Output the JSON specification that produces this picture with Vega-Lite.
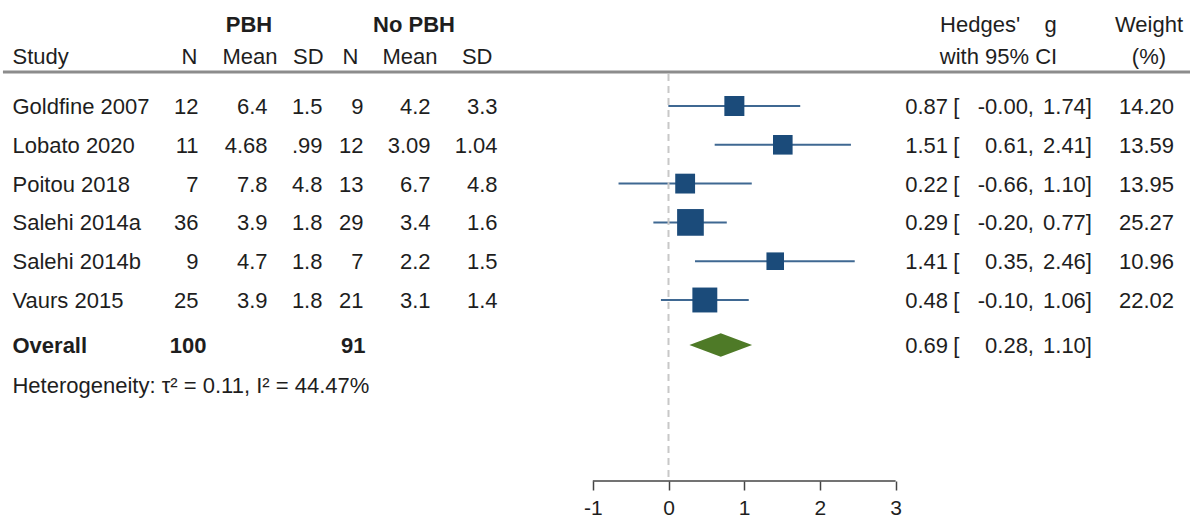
{
  "$schema": "https://vega.github.io/schema/vega-lite/v6.json",
  "width": 1190,
  "height": 481,
  "autosize": {"type": "none"},
  "padding": {"left": 0, "top": 0, "right": 0, "bottom": 36},
  "background": "white",
  "config": {
    "view": {"stroke": null},
    "text": {"font": "Liberation Sans", "fontSize": 22, "color": "#1e1e1e", "baseline": "middle", "dy": 1},
    "axisX": {"domain": false, "grid": false, "ticks": true, "tickSize": 9, "tickColor": "#444", "tickWidth": 1.5, "labelFont": "Liberation Sans", "labelFontSize": 21, "labelColor": "#1e1e1e", "labelPadding": 7, "title": null, "labelExpr": "datum.value < 0 ? '-' + abs(datum.value) : '' + datum.value"}
  },
  "data": {
    "values": [
      {"kind": "study", "study": "Goldfine 2007", "row": 1, "n1": 12, "m1": 6.4, "sd1": 1.5, "n2": 9, "m2": 4.2, "sd2": 3.3, "g": 0.87, "lo": -0.002, "hi": 1.74, "weight": 14.20},
      {"kind": "study", "study": "Lobato 2020", "row": 2, "n1": 11, "m1": 4.68, "sd1": 0.99, "n2": 12, "m2": 3.09, "sd2": 1.04, "g": 1.51, "lo": 0.61, "hi": 2.41, "weight": 13.59},
      {"kind": "study", "study": "Poitou 2018", "row": 3, "n1": 7, "m1": 7.8, "sd1": 4.8, "n2": 13, "m2": 6.7, "sd2": 4.8, "g": 0.22, "lo": -0.66, "hi": 1.10, "weight": 13.95},
      {"kind": "study", "study": "Salehi 2014a", "row": 4, "n1": 36, "m1": 3.9, "sd1": 1.8, "n2": 29, "m2": 3.4, "sd2": 1.6, "g": 0.29, "lo": -0.20, "hi": 0.77, "weight": 25.27},
      {"kind": "study", "study": "Salehi 2014b", "row": 5, "n1": 9, "m1": 4.7, "sd1": 1.8, "n2": 7, "m2": 2.2, "sd2": 1.5, "g": 1.41, "lo": 0.35, "hi": 2.46, "weight": 10.96},
      {"kind": "study", "study": "Vaurs 2015", "row": 6, "n1": 25, "m1": 3.9, "sd1": 1.8, "n2": 21, "m2": 3.1, "sd2": 1.4, "g": 0.48, "lo": -0.10, "hi": 1.06, "weight": 22.02},
      {"kind": "overall", "study": "Overall", "row": 7.16, "n1": 100, "n2": 91, "g": 0.69, "lo": 0.28, "hi": 1.10, "tau2": 0.11, "i2": 44.47}
    ]
  },
  "encoding": {
    "y": {"field": "row", "type": "quantitative", "scale": {"domain": [-1.732, 10.665], "reverse": true, "nice": false, "zero": false}, "axis": null}
  },
  "layer": [
    {
      "transform": [{"filter": "datum.kind == 'study'"}],
      "mark": {"type": "rule", "color": "#3f6892", "strokeWidth": 2},
      "encoding": {
        "x": {"field": "lo", "type": "quantitative", "scale": {"domain": [-8.8309, 6.889], "nice": false, "zero": false}, "title": null, "axis": {"values": [-1, 0, 1, 2, 3]}},
        "x2": {"field": "hi"}
      }
    },
    {
      "transform": [{"filter": "datum.kind == 'overall'"}],
      "mark": {"type": "rule", "color": "#c8c8c8", "strokeWidth": 2, "strokeDash": [7, 5]},
      "encoding": {
        "x": {"datum": 0, "type": "quantitative"},
        "y": {"datum": 0.175, "type": "quantitative", "axis": null},
        "y2": {"datum": 10.665}
      }
    },
    {
      "transform": [{"filter": "datum.kind == 'overall'"}],
      "mark": {"type": "rule", "color": "#444", "strokeWidth": 1.5},
      "encoding": {
        "x": {"datum": -1, "type": "quantitative"},
        "x2": {"datum": 3},
        "y": {"datum": 10.665, "type": "quantitative", "axis": null}
      }
    },
    {
      "transform": [{"filter": "datum.kind == 'overall'"}],
      "mark": {"type": "rule", "color": "#8c8c8c", "strokeWidth": 3},
      "encoding": {
        "x": {"datum": -8.792, "type": "quantitative"},
        "x2": {"datum": 6.889},
        "y": {"datum": 0.124, "type": "quantitative", "axis": null}
      }
    },
    {
      "transform": [{"filter": "datum.kind == 'study'"}],
      "mark": {"type": "point", "shape": "square", "filled": true, "color": "#1b4b7a", "opacity": 1, "strokeWidth": 0},
      "encoding": {
        "x": {"field": "g", "type": "quantitative", "title": null},
        "size": {"field": "weight", "type": "quantitative", "scale": {"type": "linear", "domain": [0, 10], "range": [0, 282]}, "legend": null}
      }
    },
    {
      "transform": [{"filter": "datum.kind == 'overall'"}],
      "mark": {"type": "point", "shape": "M-1,0L0,-0.373L1,0L0,0.373Z", "size": 3930, "filled": true, "color": "#4e7a27", "opacity": 1, "strokeWidth": 0},
      "encoding": {
        "x": {"field": "g", "type": "quantitative", "title": null}
      }
    },
    {
      "transform": [{"filter": "datum.kind == 'study'"}],
      "mark": {"type": "text", "align": "left"},
      "encoding": {"x": {"datum": -8.666, "type": "quantitative"}, "text": {"field": "study", "type": "nominal"}}
    },
    {
      "transform": [{"filter": "datum.kind == 'study'"}],
      "mark": {"type": "text", "align": "right"},
      "encoding": {"x": {"datum": -6.209, "type": "quantitative"}, "text": {"field": "n1", "type": "nominal"}}
    },
    {
      "transform": [{"filter": "datum.kind == 'study'"}],
      "mark": {"type": "text", "align": "right"},
      "encoding": {"x": {"datum": -5.297, "type": "quantitative"}, "text": {"field": "m1", "type": "nominal"}}
    },
    {
      "transform": [{"filter": "datum.kind == 'study'"}],
      "mark": {"type": "text", "align": "right", "text": {"expr": "replace('' + datum.sd1, regexp('^0\\\\.'), '.')"}},
      "encoding": {"x": {"datum": -4.571, "type": "quantitative"}}
    },
    {
      "transform": [{"filter": "datum.kind == 'study'"}],
      "mark": {"type": "text", "align": "right"},
      "encoding": {"x": {"datum": -4.029, "type": "quantitative"}, "text": {"field": "n2", "type": "nominal"}}
    },
    {
      "transform": [{"filter": "datum.kind == 'study'"}],
      "mark": {"type": "text", "align": "right"},
      "encoding": {"x": {"datum": -3.144, "type": "quantitative"}, "text": {"field": "m2", "type": "nominal"}}
    },
    {
      "transform": [{"filter": "datum.kind == 'study'"}],
      "mark": {"type": "text", "align": "right"},
      "encoding": {"x": {"datum": -2.259, "type": "quantitative"}, "text": {"field": "sd2", "type": "nominal"}}
    },
    {
      "transform": [{"filter": "datum.kind == 'study'"}],
      "mark": {"type": "text", "align": "right"},
      "encoding": {"x": {"datum": 6.678, "type": "quantitative"}, "text": {"field": "weight", "type": "quantitative", "format": ".2f"}}
    },
    {
      "mark": {"type": "text", "align": "right"},
      "encoding": {"x": {"datum": 3.692, "type": "quantitative"}, "text": {"field": "g", "type": "quantitative", "format": ".2f"}}
    },
    {
      "mark": {"type": "text", "align": "left", "text": "["},
      "encoding": {"x": {"datum": 3.76, "type": "quantitative"}}
    },
    {
      "mark": {"type": "text", "align": "right", "text": {"expr": "(datum.lo < 0 ? '-' : '') + format(abs(datum.lo), '.2f') + ','"}},
      "encoding": {"x": {"datum": 4.828, "type": "quantitative"}}
    },
    {
      "mark": {"type": "text", "align": "right", "text": {"expr": "format(datum.hi, '.2f') + ']'"}},
      "encoding": {"x": {"datum": 5.594, "type": "quantitative"}}
    },
    {
      "transform": [{"filter": "datum.kind == 'overall'"}],
      "mark": {"type": "text", "align": "left", "fontWeight": "bold"},
      "encoding": {"x": {"datum": -8.666, "type": "quantitative"}, "text": {"field": "study", "type": "nominal"}}
    },
    {
      "transform": [{"filter": "datum.kind == 'overall'"}],
      "mark": {"type": "text", "align": "right", "fontWeight": "bold"},
      "encoding": {"x": {"datum": -6.103, "type": "quantitative"}, "text": {"field": "n1", "type": "nominal"}}
    },
    {
      "transform": [{"filter": "datum.kind == 'overall'"}],
      "mark": {"type": "text", "align": "right", "fontWeight": "bold"},
      "encoding": {"x": {"datum": -4.003, "type": "quantitative"}, "text": {"field": "n2", "type": "nominal"}}
    },
    {
      "transform": [{"filter": "datum.kind == 'overall'"}],
      "mark": {"type": "text", "align": "left", "text": {"expr": "'Heterogeneity: τ² = ' + format(datum.tau2, '.2f') + ', I² = ' + format(datum.i2, '.2f') + '%'"}},
      "encoding": {"x": {"datum": -8.666, "type": "quantitative"}, "y": {"datum": 8.2, "type": "quantitative", "axis": null}}
    },
    {
      "transform": [{"filter": "datum.kind == 'overall'"}],
      "mark": {"type": "text", "align": "center", "fontWeight": "bold", "text": "PBH"},
      "encoding": {"x": {"datum": -5.542, "type": "quantitative"}, "y": {"datum": -1.119, "type": "quantitative", "axis": null}}
    },
    {
      "transform": [{"filter": "datum.kind == 'overall'"}],
      "mark": {"type": "text", "align": "center", "fontWeight": "bold", "text": "No PBH"},
      "encoding": {"x": {"datum": -3.362, "type": "quantitative"}, "y": {"datum": -1.119, "type": "quantitative", "axis": null}}
    },
    {
      "transform": [{"filter": "datum.kind == 'overall'"}],
      "mark": {"type": "text", "align": "center", "text": "Hedges'\u00a0\u00a0\u00a0\u00a0g"},
      "encoding": {"x": {"datum": 4.359, "type": "quantitative"}, "y": {"datum": -1.119, "type": "quantitative", "axis": null}}
    },
    {
      "transform": [{"filter": "datum.kind == 'overall'"}],
      "mark": {"type": "text", "align": "center", "text": "Weight"},
      "encoding": {"x": {"datum": 6.347, "type": "quantitative"}, "y": {"datum": -1.119, "type": "quantitative", "axis": null}}
    },
    {
      "transform": [{"filter": "datum.kind == 'overall'"}],
      "mark": {"type": "text", "align": "center", "text": "with 95% CI"},
      "encoding": {"x": {"datum": 4.359, "type": "quantitative"}, "y": {"datum": -0.3, "type": "quantitative", "axis": null}}
    },
    {
      "transform": [{"filter": "datum.kind == 'overall'"}],
      "mark": {"type": "text", "align": "center", "text": "(%)"},
      "encoding": {"x": {"datum": 6.347, "type": "quantitative"}, "y": {"datum": -0.3, "type": "quantitative", "axis": null}}
    },
    {
      "transform": [{"filter": "datum.kind == 'overall'"}],
      "mark": {"type": "text", "align": "left", "text": "Study"},
      "encoding": {"x": {"datum": -8.666, "type": "quantitative"}, "y": {"datum": -0.3, "type": "quantitative", "axis": null}}
    },
    {
      "transform": [{"filter": "datum.kind == 'overall'"}],
      "mark": {"type": "text", "align": "right", "text": "N"},
      "encoding": {"x": {"datum": -6.222, "type": "quantitative"}, "y": {"datum": -0.3, "type": "quantitative", "axis": null}}
    },
    {
      "transform": [{"filter": "datum.kind == 'overall'"}],
      "mark": {"type": "text", "align": "right", "text": "Mean"},
      "encoding": {"x": {"datum": -5.165, "type": "quantitative"}, "y": {"datum": -0.3, "type": "quantitative", "axis": null}}
    },
    {
      "transform": [{"filter": "datum.kind == 'overall'"}],
      "mark": {"type": "text", "align": "right", "text": "SD"},
      "encoding": {"x": {"datum": -4.557, "type": "quantitative"}, "y": {"datum": -0.3, "type": "quantitative", "axis": null}}
    },
    {
      "transform": [{"filter": "datum.kind == 'overall'"}],
      "mark": {"type": "text", "align": "right", "text": "N"},
      "encoding": {"x": {"datum": -4.095, "type": "quantitative"}, "y": {"datum": -0.3, "type": "quantitative", "axis": null}}
    },
    {
      "transform": [{"filter": "datum.kind == 'overall'"}],
      "mark": {"type": "text", "align": "right", "text": "Mean"},
      "encoding": {"x": {"datum": -3.052, "type": "quantitative"}, "y": {"datum": -0.3, "type": "quantitative", "axis": null}}
    },
    {
      "transform": [{"filter": "datum.kind == 'overall'"}],
      "mark": {"type": "text", "align": "right", "text": "SD"},
      "encoding": {"x": {"datum": -2.325, "type": "quantitative"}, "y": {"datum": -0.3, "type": "quantitative", "axis": null}}
    }
  ]
}
